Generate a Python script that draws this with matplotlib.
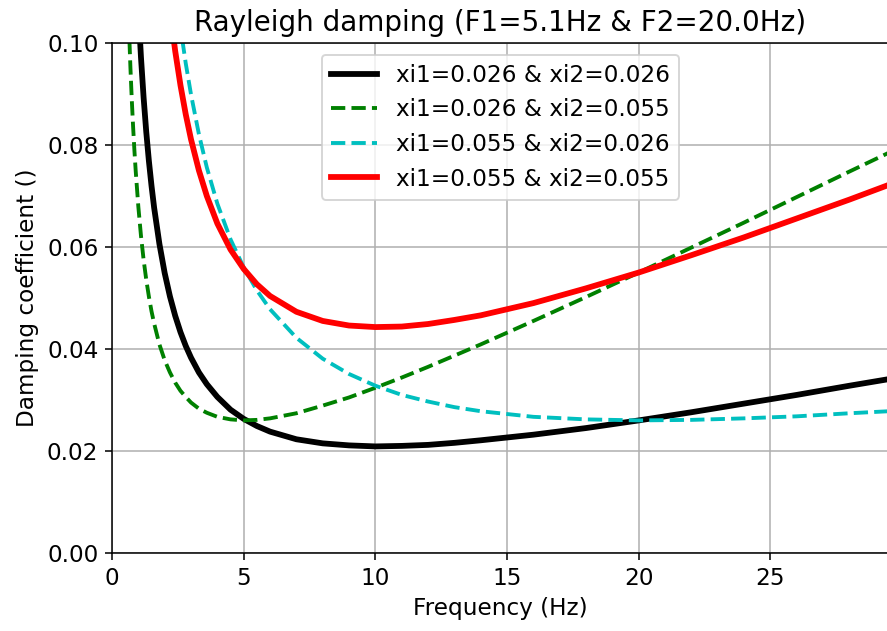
import matplotlib
matplotlib.use("Agg")
import matplotlib.pyplot as plt

# Frequencies (Hz) at which the curves were read
freq = [0.6, 0.65, 0.7, 0.75, 0.8, 0.85, 0.9, 1.0, 1.1, 1.2, 1.3, 1.4, 1.5, 1.6,
        1.8, 2.0, 2.2, 2.4, 2.6, 2.8, 3.0, 3.3, 3.6, 4.0, 4.5, 5.0, 5.5, 6.0,
        7.0, 8.0, 9.0, 10, 11, 12, 13, 14, 16, 18, 20, 22, 24, 26, 28, 29.5]

# xi1=0.026 & xi2=0.026
damp_026_026 = [0.1767, 0.1632, 0.1517, 0.1417, 0.1329, 0.1252, 0.1183, 0.1067,
                0.0972, 0.0893, 0.0826, 0.0769, 0.0720, 0.0677, 0.0606, 0.0549,
                0.0503, 0.0465, 0.0433, 0.0406, 0.0383, 0.0354, 0.0331, 0.0306,
                0.0281, 0.0263, 0.0249, 0.0238, 0.0223, 0.0215, 0.0211, 0.0209,
                0.0210, 0.0212, 0.0216, 0.0221, 0.0232, 0.0245, 0.0260, 0.0276,
                0.0293, 0.0310, 0.0328, 0.0341]
# xi1=0.026 & xi2=0.055
damp_026_055 = [0.1104, 0.1022, 0.0951, 0.0890, 0.0837, 0.0790, 0.0749, 0.0679,
                0.0622, 0.0575, 0.0536, 0.0503, 0.0474, 0.0450, 0.0409, 0.0378,
                0.0354, 0.0334, 0.0318, 0.0306, 0.0295, 0.0283, 0.0275, 0.0267,
                0.0262, 0.0260, 0.0261, 0.0264, 0.0274, 0.0289, 0.0305, 0.0324,
                0.0344, 0.0365, 0.0387, 0.0409, 0.0455, 0.0502, 0.0550, 0.0599,
                0.0648, 0.0698, 0.0748, 0.0785]
# xi1=0.055 & xi2=0.026
damp_055_026 = [0.4401, 0.4063, 0.3774, 0.3523, 0.3303, 0.3109, 0.2937, 0.2645,
                0.2406, 0.2206, 0.2038, 0.1894, 0.1769, 0.1659, 0.1477, 0.1332,
                0.1213, 0.1115, 0.1031, 0.0960, 0.0899, 0.0821, 0.0756, 0.0685,
                0.0615, 0.0560, 0.0515, 0.0478, 0.0422, 0.0381, 0.0351, 0.0328,
                0.0310, 0.0297, 0.0286, 0.0278, 0.0267, 0.0262, 0.0260, 0.0261,
                0.0264, 0.0268, 0.0274, 0.0278]
# xi1=0.055 & xi2=0.055
damp_055_055 = [0.3738, 0.3453, 0.3208, 0.2996, 0.2811, 0.2648, 0.2503, 0.2257,
                0.2056, 0.1889, 0.1748, 0.1627, 0.1523, 0.1432, 0.1281, 0.1161,
                0.1064, 0.0984, 0.0917, 0.0860, 0.0811, 0.0750, 0.0700, 0.0646,
                0.0595, 0.0557, 0.0527, 0.0504, 0.0473, 0.0455, 0.0446, 0.0443,
                0.0444, 0.0449, 0.0457, 0.0466, 0.0490, 0.0519, 0.0550, 0.0584,
                0.0619, 0.0656, 0.0693, 0.0722]

labels = ["xi1=0.026 & xi2=0.026", "xi1=0.026 & xi2=0.055",
          "xi1=0.055 & xi2=0.026", "xi1=0.055 & xi2=0.055"]

plt.rcParams['font.family'] = ['DejaVu Sans']
plt.rcParams['font.size'] = 12

dpi = 139
fig = plt.figure(figsize=(887 / dpi, 631 / dpi), dpi=dpi)
ax = fig.add_axes([112 / 887, (631 - 553) / 631, (889 - 112) / 887, (553 - 43) / 631])

ax.plot(freq, damp_026_026, '-', color='k', lw=3, label=labels[0])
ax.plot(freq, damp_026_055, '--', color='g', lw=2, label=labels[1])
ax.plot(freq, damp_055_026, '--', color='c', lw=2, label=labels[2])
ax.plot(freq, damp_055_055, '-', color='r', lw=3, label=labels[3])

ax.set_xlim(0, 29.5)
ax.set_ylim(0, 0.1)
ax.set_xticks([0, 5, 10, 15, 20, 25])
ax.set_yticks([0.0, 0.02, 0.04, 0.06, 0.08, 0.10])
ax.grid(True)
ax.spines['right'].set_visible(False)
ax.set_xlabel("Frequency (Hz)")
ax.set_ylabel("Damping coefficient ()")
ax.set_title("Rayleigh damping (F1=5.1Hz & F2=20.0Hz)", fontsize=14.4)
ax.legend(loc='upper center')

fig.savefig("out.png", dpi=dpi)
